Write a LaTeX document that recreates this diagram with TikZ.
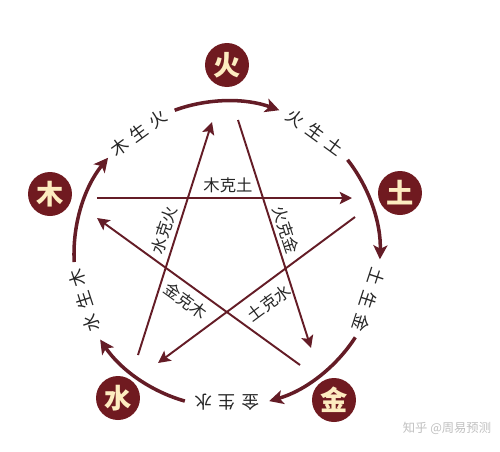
\documentclass[tikz,border=0pt]{standalone}
\usepackage{fontspec}
\setmainfont{Noto Sans CJK SC}
\usetikzlibrary{arrows.meta}
\definecolor{wuxing}{RGB}{112,26,32}
\definecolor{cream}{RGB}{253,236,192}
\definecolor{lineRed}{RGB}{100,28,38}
\newcommand{\chargap}{\hspace{3.5pt}}
\tikzset{
  element/.style={circle, fill=wuxing, text=cream, minimum size=0.88cm, inner sep=0pt, font=\fontsize{15.5}{15.5}\selectfont\bfseries},
  shengarrow/.style={draw=lineRed, line width=2pt, -{Stealth[length=8pt,width=8pt,inset=2pt]}},
  kearrow/.style={draw=lineRed, line width=1.1pt, -{Stealth[length=7pt,width=7pt,inset=1.5pt]}},
  shenglabel/.style={font=\fontsize{10}{10}\selectfont, text=black!85, inner sep=1pt},
  kelabel/.style={font=\fontsize{9.3}{10}\selectfont, text=black!85, inner sep=1pt}
}
\begin{document}
\begin{tikzpicture}[x=0.02cm,y=0.02cm]
\useasboundingbox (-227,-197) rectangle (273,254);
% the five elements
\node[element] (huo) at (0,189) {火};
\node[element] (mu) at (-177,60) {木};
\node[element] (tu) at (173,61) {土};
\node[element] (shui) at (-109,-144) {水};
\node[element] (jin) at (107,-146) {金};
% generating cycle
\node[shenglabel, rotate=36] (musheng) at (126:150) {木\chargap 生\chargap 火};
\node[shenglabel, rotate=-36] (huosheng) at (54:150) {火\chargap 生\chargap 土};
\node[shenglabel, rotate=-108] (tusheng) at (-18:149) {土\chargap 生\chargap 金};
\node[shenglabel, rotate=180] (jinsheng) at (-90:148) {金\chargap 生\chargap 水};
\node[shenglabel, rotate=108] (shuisheng) at (198:150) {水\chargap 生\chargap 木};
\draw[shengarrow] (183:153) arc[start angle=183, end angle=141, radius=153];
\draw[shengarrow] (110:153) arc[start angle=110, end angle=70, radius=153];
\draw[shengarrow] (38:153) arc[start angle=38, end angle=-2, radius=153];
\draw[shengarrow] (-33:153) arc[start angle=-33, end angle=-74, radius=153];
\draw[shengarrow] (-106:153) arc[start angle=-106, end angle=-146, radius=153];
% overcoming star
\coordinate (muke-a) at (-130,56);
\coordinate (muke-b) at (125,56);
\coordinate (huoke-a) at (11,134);
\coordinate (huoke-b) at (84,-94);
\coordinate (tuke-a) at (128,37);
\coordinate (tuke-b) at (-69,-109);
\coordinate (shuike-a) at (-89,-101);
\coordinate (shuike-b) at (-15,132);
\coordinate (jinke-a) at (73,-111);
\coordinate (jinke-b) at (-130,36);
\draw[kearrow] (muke-a) -- (muke-b);
\draw[kearrow] (huoke-a) -- (huoke-b);
\draw[kearrow] (tuke-a) -- (tuke-b);
\draw[kearrow] (shuike-a) -- (shuike-b);
\draw[kearrow] (jinke-a) -- (jinke-b);
\node[kelabel] (muketu) at (1,69) {木克土};
\node[kelabel, rotate=-72] (huokejin) at (59,24) {火克金};
\node[kelabel, rotate=36.5] (tukeshui) at (42,-49) {土克水};
\node[kelabel, rotate=72] (shuikehuo) at (-63,24) {水克火};
\node[kelabel, rotate=-36] (jinkemu) at (-41,-47) {金克木};
% watermark
\node[font=\fontsize{7}{7}\selectfont, text=black!25] (zhihu) at (220,-174) {知乎 @周易预测};
\end{tikzpicture}
\end{document}
